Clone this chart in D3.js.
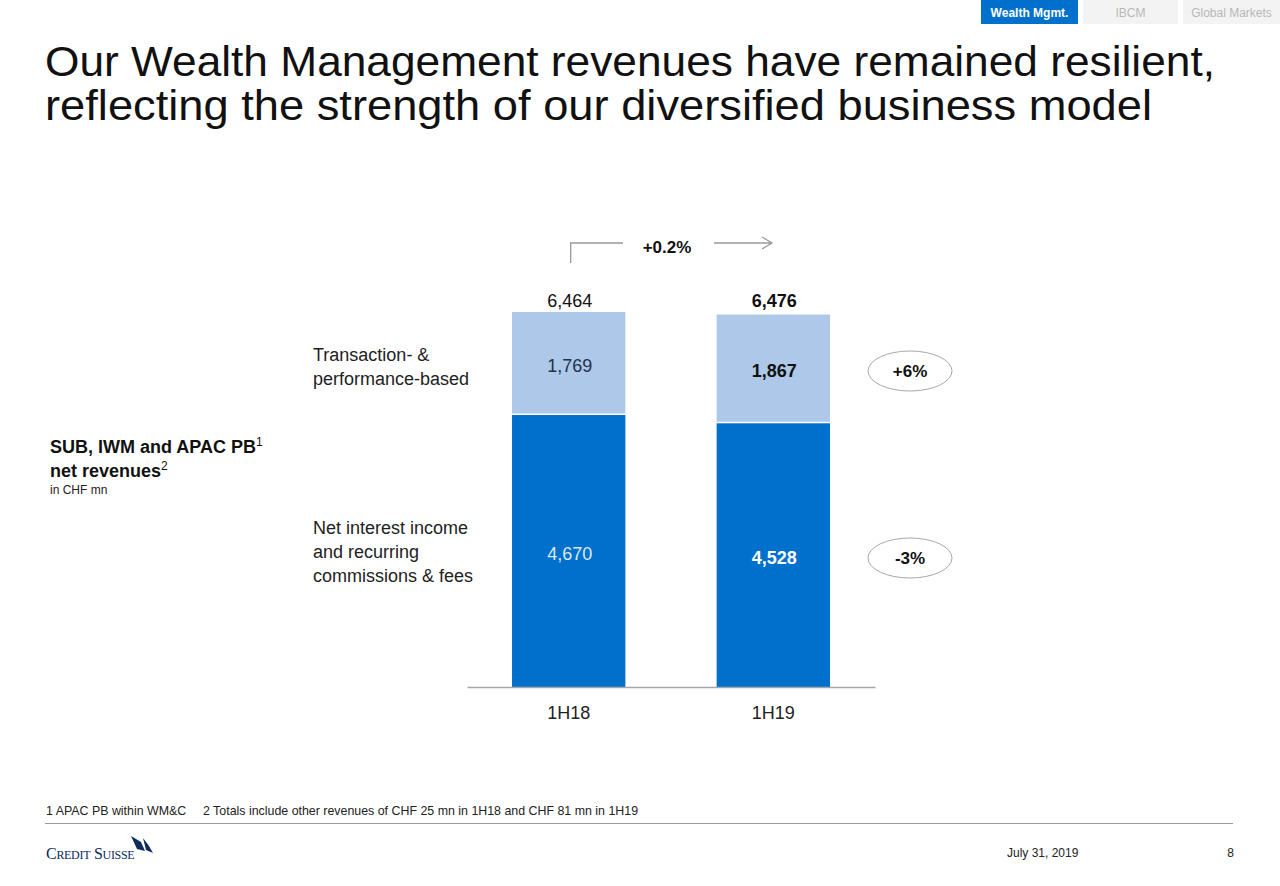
<!DOCTYPE html>
<html><head><meta charset="utf-8">
<script src="https://cdn.jsdelivr.net/npm/d3@7"></script>
<style>
html,body{margin:0;padding:0;background:#fff;}
svg{display:block;font-family:"Liberation Sans",Arial,Helvetica,sans-serif;}
</style></head>
<body><svg id="c" width="1280" height="886"></svg>
<script>
const categories = ["1H18", "1H19"];
const seriesNames = ["Net interest income and recurring commissions & fees", "Transaction- & performance-based"];
const recurring = [4670, 4528];
const transaction = [1769, 1867];
const totals = [6464, 6476];
const changes = ["-3%", "+6%"];
const totalChange = "+0.2%";
const tabs = ["Wealth Mgmt.", "IBCM", "Global Markets"];

const svg = d3.select("#c");
const DARK = "#0070cd", LIGHT = "#adc8e8";

// tabs
const tabX = [981, 1083, 1183], tabW = [97, 95, 97];
tabs.forEach((t, i) => {
  svg.append("rect").attr("x", tabX[i]).attr("y", 0).attr("width", tabW[i]).attr("height", 24)
    .attr("fill", i === 0 ? DARK : "#f3f3f3");
  svg.append("text").attr("x", tabX[i] + tabW[i] / 2).attr("y", 17).attr("text-anchor", "middle")
    .attr("font-size", 12).attr("font-weight", i === 0 ? "bold" : "normal")
    .attr("fill", i === 0 ? "#fff" : "#b8b8b8").text(t);
});

// title (one text element, two lines)
const title = ["Our Wealth Management revenues have remained resilient,", "reflecting the strength of our diversified business model"];
const titleW = [1170, 1107];
const tt = svg.append("text").attr("font-size", 43).attr("fill", "#111");
title.forEach((t, i) => {
  tt.append("tspan").attr("x", 45).attr("y", 76 + i * 44)
    .attr("textLength", titleW[i]).attr("lengthAdjust", "spacingAndGlyphs").text(t);
});

// scales
const x = d3.scaleBand().domain(categories).range([467, 875]).paddingInner(0.446).paddingOuter(0.22);
const y = d3.scaleLinear().domain([0, 7000]).range([687, 687 - 7000 * 0.05824]);

const g = svg.append("g");
const stackData = categories.map((c, i) => ({cat: c, rec: recurring[i], tra: transaction[i]}));
const stack = d3.stack().keys(["rec", "tra"])(stackData);
const colors = [DARK, LIGHT];
stack.forEach((layer, li) => {
  g.selectAll(null).data(layer).enter().append("rect")
    .attr("x", d => x(d.data.cat)).attr("width", x.bandwidth())
    .attr("y", d => y(d[1])).attr("height", d => y(d[0]) - y(d[1]) - (li === 0 ? 0 : 1.5))
    .attr("fill", colors[li]);
});

// axis baseline
const axis = d3.axisBottom(x).tickSize(0).tickPadding(16);
const ag = svg.append("g").attr("transform", `translate(0,${y(0)})`).call(axis);
ag.select(".domain").attr("stroke", "#a6a6a6").attr("stroke-width", 1.3);
ag.selectAll("text").attr("font-size", 18).attr("fill", "#222").attr("font-family", "Liberation Sans, Arial, sans-serif")
  .attr("dy", "0.9em");

const fmt = d3.format(",");
categories.forEach((c, i) => {
  const cx = x(c) + x.bandwidth() / 2 + 1;
  const bold = i === 1 ? "bold" : "normal";
  svg.append("text").attr("x", cx).attr("y", 307).attr("text-anchor", "middle").attr("font-size", 18)
    .attr("font-weight", bold).attr("fill", "#111").text(fmt(totals[i]));
  const ty = (y(recurring[i]) + y(recurring[i] + transaction[i])) / 2;
  svg.append("text").attr("x", cx).attr("y", ty + 8).attr("text-anchor", "middle").attr("font-size", 18)
    .attr("font-weight", bold).attr("fill", i === 0 ? "#24304f" : "#111").text(fmt(transaction[i]));
  svg.append("text").attr("x", cx).attr("y", i === 0 ? 560 : 564).attr("text-anchor", "middle").attr("font-size", 18)
    .attr("font-weight", bold).attr("fill", i === 0 ? "#dce8f7" : "#fff").text(fmt(recurring[i]));
});

// change arrow
const ax0 = x("1H18") + x.bandwidth() / 2 + 2;
svg.append("path").attr("d", `M${ax0},263 V243 H623`).attr("fill", "none").attr("stroke", "#9a9a9a").attr("stroke-width", 1.3);
svg.append("path").attr("d", `M714,243 H772 M762,237 L772,243 L762,249`).attr("fill", "none").attr("stroke", "#9a9a9a").attr("stroke-width", 1.3);
svg.append("text").attr("x", 667).attr("y", 253).attr("text-anchor", "middle").attr("font-size", 17)
  .attr("font-weight", "bold").attr("fill", "#111").text(totalChange);

// change ellipses
[0, 1].forEach(idx => {
  const cy = idx === 0 ? 558 : 371;
  svg.append("ellipse").attr("cx", 910).attr("cy", cy).attr("rx", 42).attr("ry", 20)
    .attr("fill", "#fff").attr("stroke", "#a8a8a8").attr("stroke-width", 1);
  svg.append("text").attr("x", 910).attr("y", cy + 6).attr("text-anchor", "middle").attr("font-size", 17)
    .attr("font-weight", "bold").attr("fill", "#111").text(changes[idx]);
});

// series labels
const lbl = [["Transaction- &", "performance-based"], ["Net interest income", "and recurring", "commissions & fees"]];
const lblY = [361, 534];
lbl.forEach((lines, j) => lines.forEach((l, k) => {
  svg.append("text").attr("x", 313).attr("y", lblY[j] + k * 24).attr("font-size", 18).attr("fill", "#222").text(l);
}));

// left heading
const h1 = svg.append("text").attr("x", 50).attr("y", 453).attr("font-size", 18).attr("font-weight", "bold").attr("fill", "#111");
h1.append("tspan").text("SUB, IWM and APAC PB");
h1.append("tspan").attr("font-size", 12).attr("font-weight", "normal").attr("dy", -7).text("1");
const h2 = svg.append("text").attr("x", 50).attr("y", 477).attr("font-size", 18).attr("font-weight", "bold").attr("fill", "#111");
h2.append("tspan").text("net revenues");
h2.append("tspan").attr("font-size", 12).attr("font-weight", "normal").attr("dy", -7).text("2");
svg.append("text").attr("x", 50).attr("y", 494).attr("font-size", 12).attr("fill", "#222").text("in CHF mn");

// footnote
svg.append("text").attr("x", 46).attr("y", 815).attr("font-size", 12.4).attr("fill", "#222")
  .text("1 APAC PB within WM&C");
svg.append("text").attr("x", 203).attr("y", 815).attr("font-size", 12.4).attr("fill", "#222")
  .text("2 Totals include other revenues of CHF 25 mn in 1H18 and CHF 81 mn in 1H19");
svg.append("line").attr("x1", 45).attr("x2", 1233).attr("y1", 823.5).attr("y2", 823.5).attr("stroke", "#9a9a9a").attr("stroke-width", 1.2);

// footer
svg.append("text").attr("x", 1007).attr("y", 857).attr("font-size", 12).attr("fill", "#222").text("July 31, 2019");
svg.append("text").attr("x", 1234).attr("y", 857).attr("font-size", 12).attr("text-anchor", "end").attr("fill", "#222").text("8");

// logo
const logo = svg.append("text").attr("x", 46).attr("y", 859).attr("font-family", "Liberation Serif, Times New Roman, serif")
  .attr("fill", "#0d2b5c").attr("font-size", 16).attr("letter-spacing", -0.3);
logo.append("tspan").text("C");
logo.append("tspan").attr("font-size", 12).text("REDIT");
logo.append("tspan").text(" S");
logo.append("tspan").attr("font-size", 12).text("UISSE");
svg.append("path").attr("d", "M131,836 L141,842 L145,851 L137,849 Z").attr("fill", "#0d2b5c");
svg.append("path").attr("d", "M143,838 L149,846 L153,853 L146,850 Z").attr("fill", "#0d2b5c");
</script></body></html>
